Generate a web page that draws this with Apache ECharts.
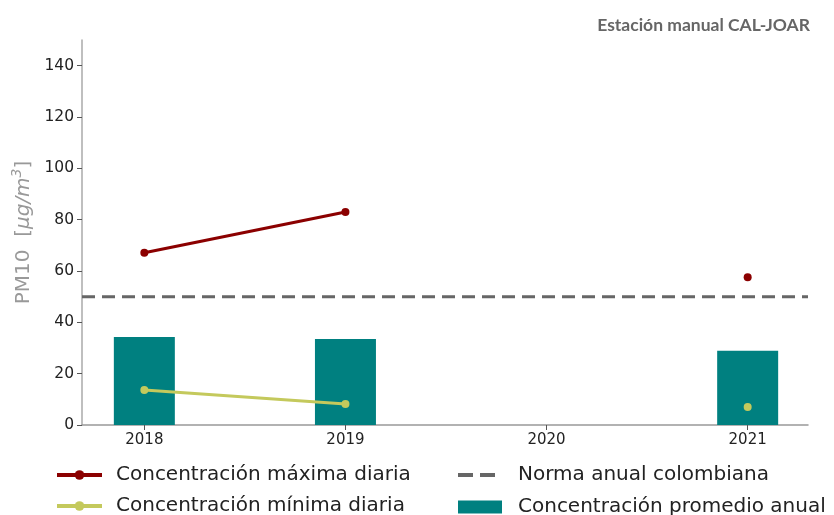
<!DOCTYPE html>
<html><head><meta charset="utf-8">
<script src="https://cdn.jsdelivr.net/npm/echarts@6/dist/echarts.min.js"></script>
<style>html,body{margin:0;padding:0;background:#fff}#c{width:834px;height:515px}</style>
</head><body><div id="c"></div>
<script>
const years = [2018, 2019, 2020, 2021];
const yearLabels = ['2018', '2019', '2020', '2021'];
const maxDaily = [67.1, 83.0, null, 57.6];
const minDaily = [13.6, 8.2, null, 7.0];
const annualMean = [34.3, 33.5, null, 28.9];
const norm = 50;
const yTicks = [0, 20, 40, 60, 80, 100, 120, 140];

const xMin = 2017.69, xMax = 2021.3;
const toPairs = arr => years.map((y, i) => [y, arr[i] == null ? '-' : arr[i]]);
const barData = years.map((y, i) => [y, annualMean[i]]).filter(d => d[1] != null);

const legendText = { fontFamily: 'DejaVu Sans', fontSize: 20, color: '#222', padding: [0, 0, 0, 9] };
const mkLegend = (name, left, top, extra) => Object.assign({
  left: left, top: top, padding: 0, orient: 'horizontal', itemWidth: 45, itemHeight: 12,
  lineStyle: { width: 4 },
  textStyle: legendText, data: [name]
}, extra || {});

const chart = echarts.init(document.getElementById('c'));
chart.setOption({
  animation: false,
  title: {
    text: 'Estación manual CAL-JOAR', right: 19, top: 11,
    textStyle: { fontFamily: 'Lato', fontWeight: 'bold', fontSize: 17.5, color: '#666' }
  },
  grid: { left: 82, right: 26, top: 40, bottom: 90, outerBoundsMode: 'none', containLabel: false },
  xAxis: {
    type: 'value', min: xMin, max: xMax,
    axisLine: { lineStyle: { color: '#999', width: 1.5 } },
    axisTick: { show: true, length: 5, customValues: years, lineStyle: { color: '#555' } },
    axisLabel: { customValues: years, formatter: v => yearLabels[years.indexOf(Math.round(v))] || '',
      fontFamily: 'DejaVu Sans', fontSize: 15, color: '#222', margin: 8 },
    splitLine: { show: false }
  },
  yAxis: {
    type: 'value', min: 0, max: 150,
    name: '{a|PM10  [}{b|μg/m}{c|3}{a|]}', nameLocation: 'middle', nameGap: 44, nameRotate: 90,
    nameTextStyle: {
      rich: {
        a: { fontFamily: 'DejaVu Sans', fontSize: 20, color: '#999' },
        b: { fontFamily: 'DejaVu Sans', fontStyle: 'italic', fontSize: 20, color: '#999' },
        c: { fontFamily: 'DejaVu Sans', fontStyle: 'italic', fontSize: 14, color: '#999', verticalAlign: 'top', padding: [0, 0, 12, 0] }
      }
    },
    axisLine: { show: true, lineStyle: { color: '#aaa', width: 1.5 } },
    axisTick: { show: true, length: 5, customValues: yTicks, lineStyle: { color: '#555' } },
    axisLabel: { customValues: yTicks, fontFamily: 'DejaVu Sans', fontSize: 15.5, color: '#222', margin: 8 },
    splitLine: { show: false }
  },
  legend: [
    mkLegend('Concentración máxima diaria', 55, 465),
    mkLegend('Concentración mínima diaria', 55, 496),
    mkLegend({ name: 'Norma anual colombiana', icon: 'path://M0,0h15v4h-15z M22,0h15v4h-15z' }, 458, 465,
      { itemWidth: 37, itemHeight: 4, textStyle: Object.assign({}, legendText, { padding: [0, 0, 0, 18] }) }),
    mkLegend({ name: 'Concentración promedio anual', icon: 'rect' }, 458, 497,
      { itemWidth: 44, itemHeight: 13, textStyle: Object.assign({}, legendText, { padding: [0, 0, 0, 11] }) })
  ],
  series: [
    {
      name: 'Concentración promedio anual', type: 'bar', data: barData, barWidth: 61,
      itemStyle: { color: '#008080' }, z: 1
    },
    {
      name: 'Norma anual colombiana', type: 'line', data: [[xMin, norm], [xMax, norm]],
      showSymbol: false, symbol: 'none', lineStyle: { color: '#666', width: 3, type: [13, 7] },
      itemStyle: { color: '#666' }, z: 2
    },
    {
      name: 'Concentración máxima diaria', type: 'line', data: toPairs(maxDaily),
      symbol: 'circle', symbolSize: 8, showSymbol: true, connectNulls: false,
      lineStyle: { color: '#8b0000', width: 3 }, itemStyle: { color: '#8b0000' }, z: 3
    },
    {
      name: 'Concentración mínima diaria', type: 'line', data: toPairs(minDaily),
      symbol: 'circle', symbolSize: 8, showSymbol: true, connectNulls: false,
      lineStyle: { color: '#c4c95c', width: 3 }, itemStyle: { color: '#c4c95c' }, z: 3
    }
  ]
});
</script></body></html>
